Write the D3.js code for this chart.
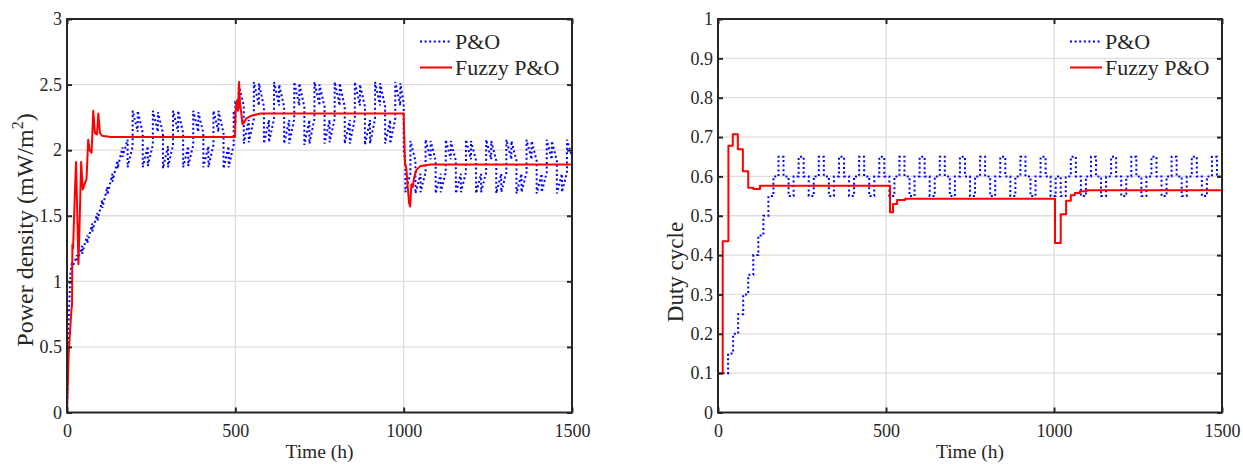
<!DOCTYPE html>
<html><head><meta charset="utf-8">
<script src="https://cdn.jsdelivr.net/npm/d3@7"></script>
<style>
body{margin:0;background:#fff}
svg{display:block}
text{font-family:"Liberation Serif","Times New Roman",serif;fill:#262626}
</style>
</head><body>
<svg id="c" width="1243" height="464"></svg>
<script>
// ---------- data ----------
const xTicks = [0, 500, 1000, 1500];
const powerTicks = [0, 0.5, 1, 1.5, 2, 2.5, 3];
const powerTickLabels = ["0", "0.5", "1", "1.5", "2", "2.5", "3"];
const dutyTicks = [0, 0.1, 0.2, 0.3, 0.4, 0.5, 0.6, 0.7, 0.8, 0.9, 1];
const dutyTickLabels = ["0", "0.1", "0.2", "0.3", "0.4", "0.5", "0.6", "0.7", "0.8", "0.9", "1"];
const seriesNames = ["P&O", "Fuzzy P&O"];

// P&O power density [time h, mW/m2]
const poPower = [
[0,0],[5,0.7],[10,1.05],[15,1.15],
[15,1.1],[30,1.2],[30,1.15],[45,1.27],[45,1.21],[60,1.35],[60,1.29],[75,1.44],
[75,1.38],[90,1.52],[90,1.46],[105,1.62],[105,1.56],[120,1.72],[120,1.66],[135,1.82],
[135,1.76],[150,1.92],[150,1.86],[165,2.02],[165,1.95],[180,2.08],
[180,1.87],[195,2.03],[195,2.3],[210,2.14],[210,2.3],[225,2.13],[225,1.87],[240,2.03],
[240,1.88],[255,2.04],[255,2.3],[270,2.14],[270,2.29],[285,2.13],[285,1.86],[300,2.03],
[300,1.87],[315,2.04],[315,2.3],[330,2.14],[330,2.3],[345,2.13],[345,1.87],[360,2.03],
[360,1.88],[375,2.04],[375,2.3],[390,2.14],[390,2.29],[405,2.13],[405,1.87],[420,2.03],
[420,1.87],[435,2.04],[435,2.3],[450,2.14],[450,2.3],[465,2.13],[465,1.86],[480,2.03],
[480,1.87],[495,2.04],[495,2.3],[500,2.2],[500,2.36],[510,2.33],
[510,2.5],[525,2.34],[525,2.05],[540,2.23],[540,2.06],[555,2.24],
[555,2.52],[570,2.34],[570,2.51],[585,2.33],[585,2.05],[600,2.23],[600,2.06],[615,2.24],
[615,2.52],[630,2.34],[630,2.5],[645,2.33],[645,2.05],[660,2.23],[660,2.05],[675,2.24],
[675,2.52],[690,2.34],[690,2.51],[705,2.33],[705,2.04],[720,2.23],[720,2.05],[735,2.24],
[735,2.52],[750,2.34],[750,2.5],[765,2.33],[765,2.05],[780,2.23],[780,2.06],[795,2.24],
[795,2.52],[810,2.34],[810,2.51],[825,2.33],[825,2.05],[840,2.23],[840,2.05],[855,2.24],
[855,2.52],[870,2.34],[870,2.5],[885,2.33],[885,2.04],[900,2.23],[900,2.05],[915,2.24],
[915,2.52],[930,2.34],[930,2.51],[945,2.33],[945,2.05],[960,2.23],[960,2.05],[975,2.24],
[975,2.52],[990,2.34],[990,2.51],[1000,2.36],[1000,2.0],[1005,1.9],
[1005,1.68],[1020,1.82],[1020,2.07],[1035,1.92],[1035,1.67],[1050,1.82],[1050,1.68],[1065,1.83],
[1065,2.08],[1080,1.93],[1080,2.07],[1095,1.92],[1095,1.67],[1110,1.82],[1110,1.68],[1125,1.83],
[1125,2.08],[1140,1.93],[1140,2.07],[1155,1.92],[1155,1.67],[1170,1.82],[1170,1.68],[1185,1.83],
[1185,2.08],[1200,1.93],[1200,2.07],[1215,1.92],[1215,1.67],[1230,1.82],[1230,1.68],[1245,1.83],
[1245,2.08],[1260,1.93],[1260,2.07],[1275,1.92],[1275,1.67],[1290,1.82],[1290,1.68],[1305,1.83],
[1305,2.08],[1320,1.93],[1320,2.07],[1335,1.92],[1335,1.67],[1350,1.82],[1350,1.68],[1365,1.83],
[1365,2.08],[1380,1.93],[1380,2.07],[1395,1.92],[1395,1.67],[1410,1.82],[1410,1.68],[1425,1.83],
[1425,2.08],[1440,1.93],[1440,2.07],[1455,1.92],[1455,1.67],[1470,1.82],[1470,1.68],[1485,1.83],
[1485,2.08],[1500,1.95]
];

// Fuzzy P&O power density [time h, mW/m2]
const fuzzyPower = [
[0,0],[5,0.45],[13,0.78],[15,0.82],[16,1.28],[18,1.25],[24,1.72],[27,1.91],[31,1.45],[34,1.13],
[37,1.4],[42,1.91],[47,1.7],[52,1.74],[58,1.78],[63,2.08],[67,2.0],[73,1.98],[78,2.3],[83,2.13],
[89,2.12],[93,2.28],[98,2.13],[104,2.11],[130,2.1],[499,2.1],[501,2.3],[505,2.38],[508,2.3],
[511,2.52],[514,2.35],[517,2.3],[521,2.2],[526,2.21],[532,2.24],[545,2.26],[575,2.28],[1000,2.28],
[1001,2.18],[1004,1.9],[1008,1.86],[1012,1.72],[1016,1.6],[1019,1.57],[1023,1.74],[1027,1.72],
[1031,1.79],[1038,1.85],[1050,1.88],[1080,1.89],[1500,1.89]
];

// P&O duty cycle, value held from time t
const poDuty = [
[0,0.1],[30,0.15],[45,0.2],[60,0.25],[75,0.3],[90,0.35],[105,0.4],[120,0.45],[135,0.5],[150,0.55],[165,0.6],
[180,0.65],[195,0.6],[210,0.55],[225,0.6],[240,0.65],[255,0.6],[270,0.55],[285,0.6],
[300,0.65],[315,0.6],[330,0.55],[345,0.6],[360,0.65],[375,0.6],[390,0.55],[405,0.6],
[420,0.65],[435,0.6],[450,0.55],[465,0.6],[480,0.65],[495,0.6],[510,0.55],[525,0.6],
[540,0.65],[555,0.6],[570,0.55],[585,0.6],[600,0.65],[615,0.6],[630,0.55],[645,0.6],
[660,0.65],[675,0.6],[690,0.55],[705,0.6],[720,0.65],[735,0.6],[750,0.55],[765,0.6],
[780,0.65],[795,0.6],[810,0.55],[825,0.6],[840,0.65],[855,0.6],[870,0.55],[885,0.6],
[900,0.65],[915,0.6],[930,0.55],[945,0.6],[960,0.65],[975,0.6],[990,0.55],[1005,0.6],
[1020,0.55],[1035,0.6],
[1050,0.65],[1065,0.6],[1080,0.55],[1095,0.6],[1110,0.65],[1125,0.6],[1140,0.55],[1155,0.6],
[1170,0.65],[1185,0.6],[1200,0.55],[1215,0.6],[1230,0.65],[1245,0.6],[1260,0.55],[1275,0.6],
[1290,0.65],[1305,0.6],[1320,0.55],[1335,0.6],[1350,0.65],[1365,0.6],[1380,0.55],[1395,0.6],
[1410,0.65],[1425,0.6],[1440,0.55],[1455,0.6],[1470,0.65],[1485,0.6],[1500,0.6]
];

// Fuzzy P&O duty cycle, value held from time t
const fuzzyDuty = [
[0,0],[0,0.1],[14,0.435],[31,0.678],[44,0.707],[59,0.669],[74,0.613],[90,0.571],[105,0.568],
[125,0.576],[512,0.509],[521,0.53],[533,0.54],[557,0.543],[1003,0.431],[1020,0.504],[1036,0.538],
[1050,0.552],[1062,0.558],[1077,0.562],[1097,0.565],[1500,0.565]
];

// ---------- drawing ----------
const svg = d3.select("#c");
svg.append("rect").attr("width",1243).attr("height",464).attr("fill","#fff");
const AX = "#262626", GRID = "#dedede";
const colors = ["#0000ff", "#ff0000"];

function panel(cfg){
  const x = d3.scaleLinear().domain([0,1500]).range([cfg.x0, cfg.x1]);
  const y = d3.scaleLinear().domain(cfg.yDomain).range([412.5, 19]);
  const g = svg.append("g");

  // grid
  g.append("g").selectAll("line").data(xTicks.slice(1,-1)).join("line")
    .attr("x1",d=>x(d)).attr("x2",d=>x(d)).attr("y1",y.range()[0]).attr("y2",y.range()[1])
    .attr("stroke",GRID).attr("stroke-width",1.3);
  g.append("g").selectAll("line").data(cfg.yTicks.slice(1,-1)).join("line")
    .attr("y1",d=>y(d)).attr("y2",d=>y(d)).attr("x1",cfg.x0).attr("x2",cfg.x1)
    .attr("stroke",GRID).attr("stroke-width",1.3);

  // series
  const line = d3.line().x(d=>x(d[0])).y(d=>y(d[1]));
  if (cfg.step) line.curve(d3.curveStepAfter);
  g.append("path").datum(cfg.series[0]).attr("d",line).attr("fill","none")
    .attr("stroke",colors[0]).attr("stroke-width",2).attr("stroke-dasharray","2 2.6");
  g.append("path").datum(cfg.series[1]).attr("d",line).attr("fill","none")
    .attr("stroke",colors[1]).attr("stroke-width",2).attr("stroke-linejoin","round");

  // axes
  const fmtX = d => String(d);
  const fmtY = d => cfg.yLabels[cfg.yTicks.indexOf(d)];
  const bottom = g.append("g").attr("transform",`translate(0,${y.range()[0]})`)
    .call(d3.axisBottom(x).tickValues(xTicks).tickFormat(fmtX).tickSizeInner(-5).tickSizeOuter(0).tickPadding(11.5));
  const left = g.append("g").attr("transform",`translate(${cfg.x0},0)`)
    .call(d3.axisLeft(y).tickValues(cfg.yTicks).tickFormat(fmtY).tickSizeInner(-5).tickSizeOuter(0).tickPadding(5));
  const top = g.append("g").attr("transform",`translate(0,${y.range()[1]})`)
    .call(d3.axisTop(x).tickValues(xTicks).tickFormat("").tickSizeInner(-5).tickSizeOuter(0));
  const right = g.append("g").attr("transform",`translate(${cfg.x1},0)`)
    .call(d3.axisRight(y).tickValues(cfg.yTicks).tickFormat("").tickSizeInner(-5).tickSizeOuter(0));
  [bottom,left,top,right].forEach(a=>{
    a.select(".domain").remove();
    a.selectAll(".tick line").attr("stroke",AX).attr("stroke-width",2);
    a.selectAll("text").attr("font-family",'"Liberation Serif","Times New Roman",serif')
      .attr("font-size",18).attr("fill",AX);
  });
  g.append("rect").attr("x",cfg.x0).attr("y",19).attr("width",cfg.x1-cfg.x0).attr("height",412.5-19)
    .attr("fill","none").attr("stroke",AX).attr("stroke-width",2);

  // axis labels
  g.append("text").attr("x",(cfg.x0+cfg.x1)/2).attr("y",458).attr("text-anchor","middle")
    .attr("font-size",19.5).text("Time (h)");
  const yl = g.append("text").attr("transform",`translate(${cfg.yLabelX},${cfg.yLabelY}) rotate(-90)`)
    .attr("text-anchor","middle").attr("font-size",cfg.yLabelSize);
  cfg.yLabelFn(yl);

  // legend
  seriesNames.forEach((name,i)=>{
    const ly = 41.5 + i*26;
    g.append("line").attr("x1",cfg.x1-152).attr("x2",cfg.x1-120).attr("y1",ly).attr("y2",ly)
      .attr("stroke",colors[i]).attr("stroke-width",2)
      .attr("stroke-dasharray", i===0 ? "2 2.6" : null);
    g.append("text").attr("x",cfg.x1-117).attr("y",ly+7.5).attr("font-size",22).text(name);
  });
}

panel({x0:67, x1:572, yDomain:[0,3], yTicks:powerTicks, yLabels:powerTickLabels,
  series:[poPower, fuzzyPower], step:false, yLabelX:33, yLabelY:230, yLabelSize:24,
  yLabelFn: t => { t.append("tspan").text("Power density (mW/m");
    t.append("tspan").attr("dy",-10).attr("font-size",16).text("2");
    t.append("tspan").attr("dy",10).text(")"); }});
panel({x0:718, x1:1222, yDomain:[0,1], yTicks:dutyTicks, yLabels:dutyTickLabels,
  series:[poDuty, fuzzyDuty], step:true, yLabelX:683, yLabelY:272, yLabelSize:23,
  yLabelFn: t => t.text("Duty cycle")});
</script>
</body></html>
